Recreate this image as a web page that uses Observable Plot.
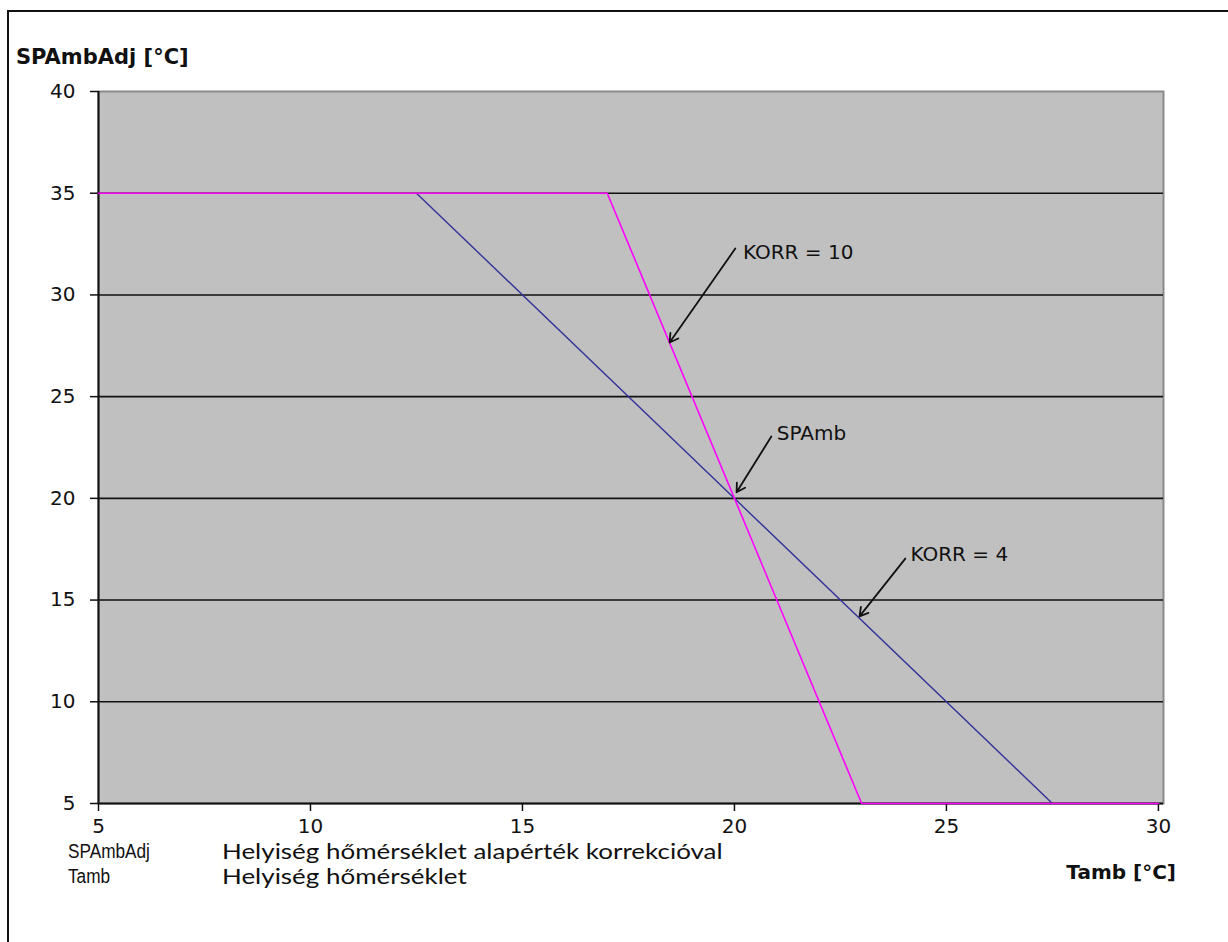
<!DOCTYPE html>
<html><head><meta charset="utf-8">
<script src="https://cdn.jsdelivr.net/npm/d3@7"></script>
<script src="https://cdn.jsdelivr.net/npm/@observablehq/plot@0.6"></script>
<style>
body{margin:0;background:#fff;width:1228px;height:942px;overflow:hidden;position:relative;font-family:"DejaVu Sans",sans-serif}
#frame{position:absolute;left:7px;top:10px;width:1300px;height:1000px;border-left:2px solid #111;border-top:2px solid #111}
#chart{position:absolute;left:0;top:0}
.t{position:absolute;line-height:1;white-space:nowrap;color:#111}
.leg{font-family:"Liberation Sans",Arial,sans-serif;font-size:20px;transform:scaleX(0.86);transform-origin:left center}
.cal{font-family:Lato,"Open Sans",sans-serif;font-size:22px;transform:scaleX(1.18);transform-origin:left center}
</style></head><body>
<div id="frame"></div>
<div id="chart"></div>
<div class="t" style="left:16px;top:47px;font-weight:bold;font-size:21px">SPAmbAdj [°C]</div>
<div class="t" style="right:52px;top:862px;font-weight:bold;font-size:20px">Tamb [°C]</div>
<div class="t leg" style="left:68px;top:841px">SPAmbAdj</div>
<div class="t leg" style="left:68px;top:866px">Tamb</div>
<div class="t cal" style="left:222px;top:840px">Helyiség hőmérséklet alapérték korrekcióval</div>
<div class="t cal" style="left:222px;top:865px">Helyiség hőmérséklet</div>
<script>
const xTicks = [5, 10, 15, 20, 25, 30];
const yTicks = [5, 10, 15, 20, 25, 30, 35, 40];
const gridY = [10, 15, 20, 25, 30, 35];
const korr10X = [5, 17, 23, 30];
const korr10Y = [35, 35, 5, 5];
const korr4X = [12.5, 27.5];
const korr4Y = [35, 5];
const arrowX1 = [20.02, 20.87, 24.03];
const arrowY1 = [32.28, 23.04, 17.04];
const arrowX2 = [18.47, 20.05, 22.95];
const arrowY2 = [27.66, 20.3, 14.2];
const labelText = ["KORR = 10", "SPAmb", "KORR = 4"];
const labelX = [20.2, 21.0, 24.15];
const labelY = [32.1, 23.2, 17.25];

const korr10 = korr10X.map((x, i) => ({x, y: korr10Y[i]}));
const korr4 = korr4X.map((x, i) => ({x, y: korr4Y[i]}));
const arrows = arrowX1.map((x1, i) => ({x1, y1: arrowY1[i], x2: arrowX2[i], y2: arrowY2[i]}));
const labels = labelText.map((t, i) => ({t, x: labelX[i], y: labelY[i]}));

const chart = Plot.plot({
  width: 1228,
  height: 942,
  marginLeft: 98,
  marginTop: 91,
  marginRight: 65,
  marginBottom: 139,
  style: {fontFamily: "DejaVu Sans, sans-serif", fontSize: "20px", color: "#111", background: "transparent"},
  x: {domain: [5, 30.12]},
  y: {domain: [5, 40]},
  marks: [
    Plot.frame({fill: "#c0c0c0", stroke: "#8a8a8a", strokeWidth: 2}),
    Plot.ruleY(gridY, {stroke: "#111", strokeWidth: 1.6}),
    Plot.ruleY([5], {stroke: "#111", strokeWidth: 2}),
    Plot.ruleX([5], {stroke: "#111", strokeWidth: 2}),
    Plot.axisY({ticks: yTicks, tickSize: 8, tickPadding: 15, label: null, stroke: "#111", strokeWidth: 1.5}),
    Plot.axisX({ticks: xTicks, tickSize: 8, tickPadding: 7, label: null, stroke: "#111", strokeWidth: 1.5}),
    Plot.line(korr4, {x: "x", y: "y", stroke: "#333399", strokeWidth: 1.4}),
    Plot.line(korr10, {x: "x", y: "y", stroke: "#ff00ff", strokeWidth: 1.6}),
    Plot.arrow(arrows, {x1: "x1", y1: "y1", x2: "x2", y2: "y2", stroke: "#111", strokeWidth: 1.8, headLength: 8}),
    Plot.text(labels, {x: "x", y: "y", text: "t", textAnchor: "start", fill: "#111", fontSize: 20})
  ]
});
document.getElementById("chart").append(chart);
</script>
</body></html>
